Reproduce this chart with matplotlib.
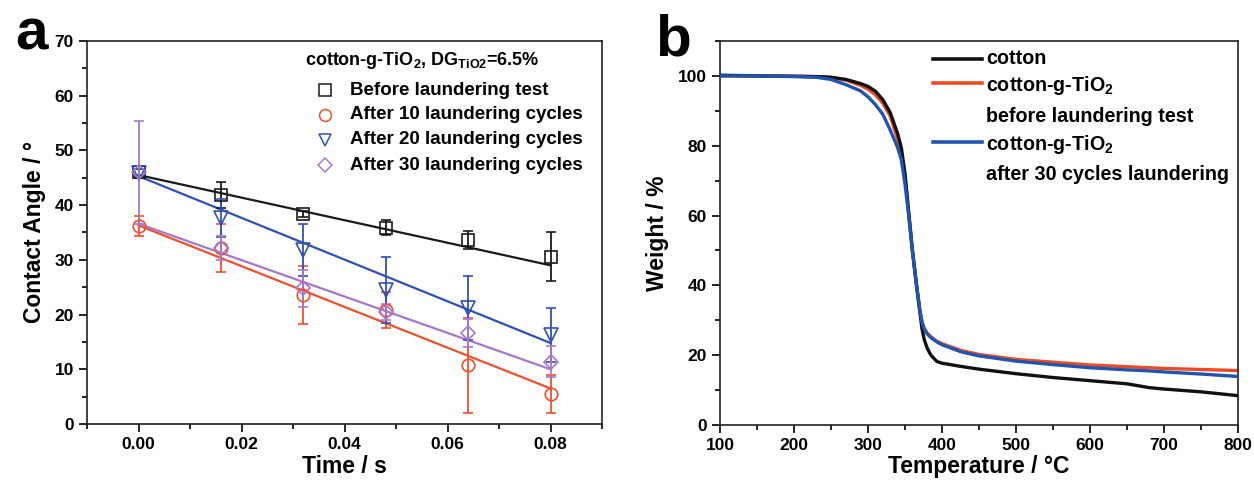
import numpy as np
import matplotlib
matplotlib.use("Agg")
import matplotlib.pyplot as plt
from matplotlib.lines import Line2D
from matplotlib.ticker import MultipleLocator

plt.rcParams['font.family'] = ['Liberation Sans', 'DejaVu Sans']
plt.rcParams['font.weight'] = 'bold'
plt.rcParams['mathtext.fontset'] = 'custom'
plt.rcParams['mathtext.rm'] = 'Liberation Sans:bold'
plt.rcParams['mathtext.it'] = 'Liberation Sans:bold'
plt.rcParams['mathtext.bf'] = 'Liberation Sans:bold'

# ---------------- Panel a data ----------------
time_s = [0.0, 0.016, 0.032, 0.048, 0.064, 0.08]
before_ca = [46.0, 41.9, 38.4, 35.9, 33.6, 30.6]
before_err = [0.6, 2.4, 0.5, 1.4, 1.7, 4.4]
after10_ca = [36.2, 32.2, 23.6, 20.8, 10.7, 5.5]
after10_err = [1.9, 4.4, 5.3, 3.3, 8.7, 3.5]
after20_ca = [45.8, 37.7, 31.8, 24.5, 21.2, 16.3]
after20_err = [0.8, 3.5, 4.8, 6.0, 5.8, 4.9]
after30_ca = [46.0, 32.2, 24.8, 20.5, 16.6, 11.4]
after30_err = [9.4, 2.2, 3.4, 1.5, 2.5, 2.8]
# linear fit lines (value at t=0, value at t=0.08)
fit_start = [45.5, 36.3, 45.3, 36.6]
fit_end = [29.0, 6.5, 14.8, 10.0]

series_labels = ["Before laundering test", "After 10 laundering cycles",
                 "After 20 laundering cycles", "After 30 laundering cycles"]

# ---------------- Panel b data ----------------
temp_c = [100, 150, 200, 230, 250, 270, 290, 300, 310, 320, 330, 340, 345,
          350, 355, 360, 365, 370, 373, 376, 380, 385, 393, 400, 425, 450,
          500, 550, 600, 650, 680, 700, 750, 800]
w_cotton = [100.2, 100.0, 99.9, 99.8, 99.6, 99.0, 97.8, 97.0, 95.6, 93.2,
            89.5, 83.5, 79.5, 72.0, 61.0, 50.0, 41.0, 32.5, 27.5, 24.5,
            22.0, 20.0, 18.2, 17.7, 16.8, 16.0, 14.7, 13.6, 12.7, 11.8,
            10.7, 10.3, 9.5, 8.4]
w_before = [100.0, 100.0, 99.9, 99.8, 99.6, 98.8, 97.3, 96.2, 94.6, 92.2,
            88.5, 82.0, 78.0, 71.0, 60.5, 50.0, 41.0, 33.0, 29.5, 27.6,
            26.3, 25.3, 24.0, 23.3, 21.4, 20.2, 18.8, 18.0, 17.2, 16.7,
            16.4, 16.2, 15.9, 15.6]
w_after = [100.0, 100.0, 99.8, 99.6, 99.0, 97.5, 95.7, 94.0, 91.8, 89.0,
           84.5, 79.5, 76.0, 69.0, 60.0, 50.0, 41.0, 33.0, 29.5, 27.5,
           26.1, 25.0, 23.8, 23.0, 21.0, 19.8, 18.3, 17.3, 16.4, 15.8,
           15.5, 15.2, 14.6, 13.9]

colors_a = ['#1a1a1a', '#f0502d', '#3050b4', '#a678cc']
markers_a = ['s', 'o', 'v', 'D']
msizes = [8.5, 9.0, 9.5, 7.5]
c_black = '#111111'
c_red = '#ef4b22'
c_blue = '#1f55b0'

fig = plt.figure(figsize=(12.54, 4.8), dpi=100)
axa = fig.add_axes([87 / 1254, 1 - 424 / 480, 515 / 1254, 383 / 480])
axb = fig.add_axes([720 / 1254, 1 - 425 / 480, 518 / 1254, 384 / 480])

# ---------------- Panel a ----------------
vals = [before_ca, after10_ca, after20_ca, after30_ca]
errs = [before_err, after10_err, after20_err, after30_err]
t = np.array(time_s)
for i in range(4):
    slope = (fit_end[i] - fit_start[i]) / (t[-1] - t[0])
    xx = np.array([t[0], t[-1]])
    axa.plot(xx, fit_start[i] + slope * (xx - t[0]), color=colors_a[i], lw=1.6, zorder=2)
for i in range(4):
    axa.errorbar(time_s, vals[i], yerr=errs[i], fmt=markers_a[i], color=colors_a[i],
                 mfc='none', mec=colors_a[i], ms=msizes[i], mew=1.2,
                 elinewidth=1.3, capsize=3.5, capthick=1.3, zorder=3)

axa.set_xlim(-0.01, 0.09)
axa.set_ylim(0, 70)
axa.xaxis.set_minor_locator(MultipleLocator(0.01))
axa.yaxis.set_major_locator(MultipleLocator(10))
axa.yaxis.set_minor_locator(MultipleLocator(5))
axa.set_xticks([0.0, 0.02, 0.04, 0.06, 0.08])
axa.set_xticklabels(['0.00', '0.02', '0.04', '0.06', '0.08'])
axa.set_xlabel('Time / s', fontsize=16.5, fontweight='bold', labelpad=2)
axa.set_ylabel('Contact Angle / °', fontsize=16.5, fontweight='bold', labelpad=6)

# legend (panel a)
axa.text(0.423, 0.950, 'cotton-g-TiO$_2$, DG$_{TiO2}$=6.5%', transform=axa.transAxes,
         fontsize=13, fontweight='bold', va='center', ha='left')
leg_y = [0.872, 0.807, 0.742, 0.676]
for i in range(4):
    axa.plot([0.462], [leg_y[i]], marker=markers_a[i], ms=msizes[i] * 0.95, mfc='none',
             mec=colors_a[i], mew=1.1, transform=axa.transAxes, ls='none', clip_on=False)
    axa.text(0.511, leg_y[i], series_labels[i], transform=axa.transAxes,
             fontsize=13.5, fontweight='bold', va='center', ha='left')

# ---------------- Panel b ----------------
axb.plot(temp_c, w_cotton, color=c_black, lw=2.4, zorder=3)
axb.plot(temp_c, w_before, color=c_red, lw=2.4, zorder=2)
axb.plot(temp_c, w_after, color=c_blue, lw=2.4, zorder=4)
axb.set_xlim(100, 800)
axb.set_ylim(0, 110)
axb.xaxis.set_major_locator(MultipleLocator(100))
axb.xaxis.set_minor_locator(MultipleLocator(50))
axb.yaxis.set_minor_locator(MultipleLocator(10))
axb.set_yticks([0, 20, 40, 60, 80, 100])
axb.set_xlabel('Temperature / °C', fontsize=16.5, fontweight='bold', labelpad=1)
axb.set_ylabel('Weight / %', fontsize=16.5, fontweight='bold', labelpad=6)

lx0, lx1, tx = (933 - 720) / 518, (982 - 720) / 518, (986 - 720) / 518
def fy(py):
    return 1 - (py - 41) / 384
handles = [(fy(59), fy(59), c_black, 'cotton'),
           (fy(83), fy(86), c_red, 'cotton-g-TiO$_2$'),
           (None, fy(117), None, 'before laundering test'),
           (fy(142), fy(145), c_blue, 'cotton-g-TiO$_2$'),
           (None, fy(175), None, 'after 30 cycles laundering')]
for ly, ty, c, lab in handles:
    if c is not None:
        axb.add_line(Line2D([lx0, lx1], [ly, ly], color=c, lw=2.6, transform=axb.transAxes))
    axb.text(tx, ty, lab, transform=axb.transAxes, fontsize=14.2, fontweight='bold',
             va='center', ha='left')

for ax in (axa, axb):
    ax.tick_params(which='both', direction='out', top=False, right=False,
                   labelsize=12.5, width=1.2)
    ax.tick_params(which='major', length=6)
    ax.tick_params(which='minor', length=3.5)
    for lab in ax.get_xticklabels() + ax.get_yticklabels():
        lab.set_fontweight('bold')
    for sp in ax.spines.values():
        sp.set_linewidth(1.2)
        sp.set_color('#222222')

fig.text(15 / 1254, 1 - 50 / 480, 'a', fontsize=42, fontweight='bold', va='baseline', ha='left')
fig.text(655 / 1254, 1 - 55 / 480, 'b', fontsize=42, fontweight='bold', va='baseline', ha='left')

fig.savefig('out.png', dpi=100, facecolor='white')
